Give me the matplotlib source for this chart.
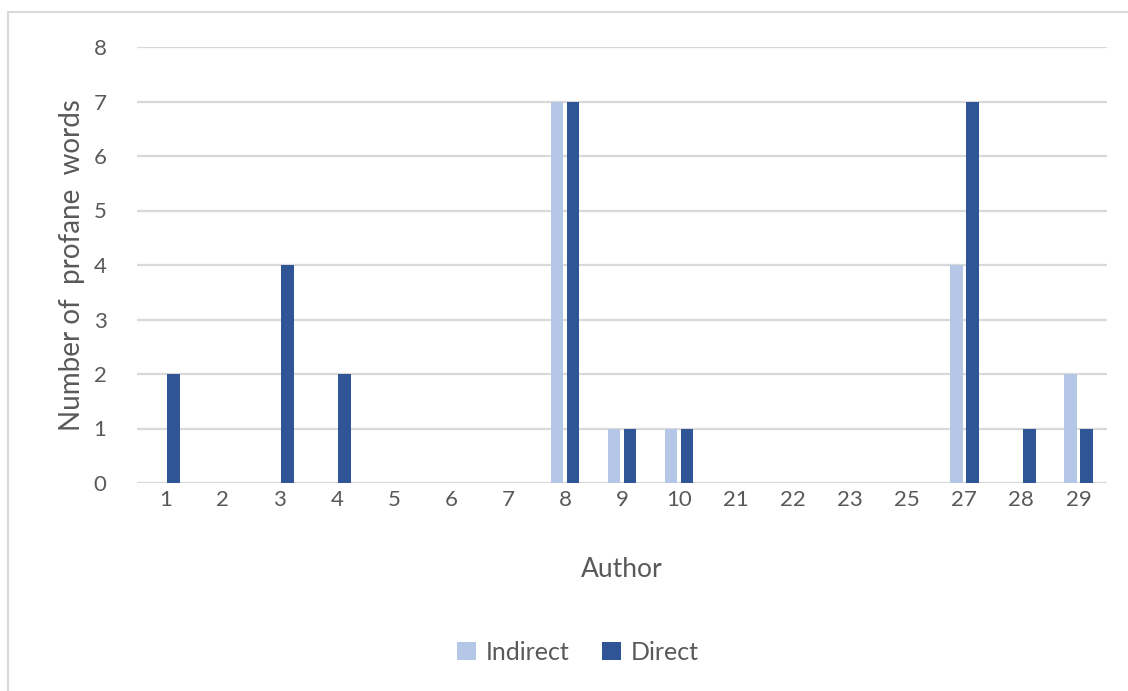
import numpy as np
import matplotlib
matplotlib.use('Agg')
import matplotlib.pyplot as plt
from matplotlib.patches import Rectangle

# data
authors = ['1', '2', '3', '4', '5', '6', '7', '8', '9', '10',
           '21', '22', '23', '25', '27', '28', '29']
indirect = [0, 0, 0, 0, 0, 0, 0, 7, 1, 1, 0, 0, 0, 0, 4, 0, 2]
direct = [2, 0, 4, 2, 0, 0, 0, 7, 1, 1, 0, 0, 0, 0, 7, 1, 1]

plt.rcParams['font.family'] = ['Lato', 'DejaVu Sans']
grey = '#595959'
c_ind = '#B4C7E7'
c_dir = '#2F5597'

fig = plt.figure(figsize=(11.28, 6.91), dpi=100)
W, H = 1128, 691
# plot area in pixels: x 137..1107, y 47..483
ax = fig.add_axes([137 / W, 1 - 483 / H, (1107 - 137) / W, (483 - 47) / H])

x = np.arange(len(authors))
bw = 0.22
off = 0.14
ax.bar(x - off, indirect, bw, color=c_ind, label='Indirect', zorder=3)
ax.bar(x + off, direct, bw, color=c_dir, label='Direct', zorder=3)

ax.set_xlim(-0.5, len(authors) - 0.5)
ax.set_ylim(0, 8)
ax.set_yticks(range(0, 9))
ax.set_xticks(x)
ax.set_xticklabels(authors)
ax.grid(axis='y', color='#d9d9d9', linewidth=1.6, zorder=0)
for s in ax.spines.values():
    s.set_visible(False)
ax.tick_params(axis='both', length=0, labelsize=16, labelcolor=grey)
ax.tick_params(axis='y', pad=22)
ax.tick_params(axis='x', pad=5)

ax.set_xlabel('Author', fontsize=19, color=grey, labelpad=34)
ax.set_ylabel('Number of  profane  words', fontsize=20, color=grey, labelpad=6)

fig.legend(loc='center', bbox_to_anchor=(578 / W, 1 - 652 / H), ncol=2,
           frameon=False, fontsize=18, labelcolor=grey, handlelength=0.75,
           handleheight=0.75, handletextpad=0.4, columnspacing=1.3)

# chart area border (cropped on the right and bottom)
fig.patches.append(Rectangle((8 / W, -0.05), 1.1, 1 - 12 / H + 0.05,
                             transform=fig.transFigure, fill=False,
                             edgecolor='#d9d9d9', linewidth=1.5))

fig.savefig('out.png', dpi=100)
